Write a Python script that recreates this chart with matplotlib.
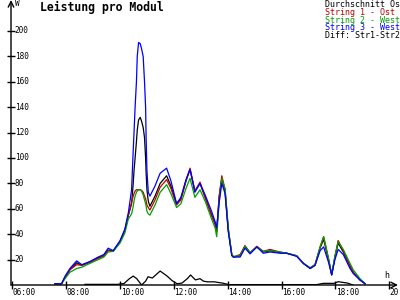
import numpy as np
import matplotlib
matplotlib.use("Agg")
import matplotlib.pyplot as plt

# hours (decimal) and power per module in W
hours = [7.58, 7.83, 7.96, 8.14, 8.39, 8.58, 8.88, 9.19, 9.40, 9.56, 9.75,
         10.00, 10.18, 10.31, 10.43, 10.49, 10.52, 10.56, 10.61, 10.64, 10.69,
         10.75, 10.80, 10.86, 10.91, 10.95, 10.97, 11.00, 11.05, 11.11,
         11.30, 11.49, 11.73, 11.89, 12.10, 12.26,
         12.45, 12.60, 12.78, 12.97, 13.16, 13.40, 13.53, 13.59, 13.68, 13.78,
         13.90, 14.02, 14.15, 14.21, 14.46, 14.64, 14.83, 15.08, 15.32, 15.57,
         15.94, 16.19, 16.56, 16.81, 17.06, 17.24, 17.43, 17.56, 17.74, 17.86,
         17.98, 18.10, 18.29, 18.54, 18.66, 18.91, 19.10]
avg = [1, 1, 6, 12, 17.5, 15.5, 18, 21.5, 23, 27.5, 27,
       34, 43, 55, 64, 80, 90, 100, 113, 122, 130,
       132, 129, 124, 116, 100, 88, 75, 66, 62,
       70, 80, 86, 78, 64, 68,
       82, 91, 74, 80, 69, 55, 48, 42, 69, 84,
       74, 43, 24, 22, 23, 30.5, 25, 30, 26, 27,
       25.5, 25, 23, 17, 13, 15.5, 29, 36, 20, 8,
       22, 33, 26, 15, 10, 4, 1]
str1 = [1, 1, 6, 12, 16, 15.5, 18, 21, 23, 27, 27,
        34, 43, 55, 65, 70, 72, 74, 75, 75, 75,
        75, 74.5, 73, 70, 68, 66, 63, 61, 59,
        67, 77, 83, 76, 63, 67,
        82, 92, 74, 81, 69, 55, 48, 42, 70, 86,
        75, 44, 24, 22, 24, 31, 25.5, 30.5, 26.5, 28,
        26, 25, 23, 17, 13.5, 16, 30, 38, 21, 8,
        22, 35, 27, 15, 10, 4, 1]
str2 = [1, 1, 5, 10, 13, 14, 17, 20, 22, 26, 26.5,
        33, 41, 52, 56, 62, 66, 70, 73, 74, 75,
        75, 74, 71, 67, 64, 62, 58, 56, 55,
        63, 73, 79, 72, 61, 64,
        76, 84, 69, 75, 66, 52, 45, 38, 65, 84,
        76, 45, 24, 22.5, 23, 30.5, 25.5, 30, 26.5, 27,
        26, 25, 23, 17, 13.5, 16, 30, 38, 21, 8,
        23, 34, 28, 17, 12, 5, 1]
str3 = [1, 1, 7, 13, 19, 16, 18.5, 22, 24, 29, 27,
        35, 44, 57, 75, 106, 120, 140, 160, 180, 191,
        190, 186, 180, 160, 140, 115, 90, 73, 70,
        78, 88, 92, 82, 64, 69,
        83, 91, 73, 80, 71, 58, 50, 45, 65, 80,
        72, 42, 23, 22, 22, 29, 24.5, 30, 25, 26,
        25, 25, 22.5, 17, 13, 15.5, 27, 30, 18, 8,
        20, 28, 24, 13, 9, 4, 1]

diff_hours = [8.70, 9.90, 10.15, 10.35, 10.49, 10.62, 10.80, 10.95, 11.04, 11.20,
              11.49, 11.75, 11.93, 12.12, 12.30, 12.50, 12.62, 12.80, 12.97, 13.10,
              13.25, 13.50, 13.80, 14.05, 17.30, 17.55, 17.95, 18.10, 18.45, 18.65]
diff = [0.5, 0.5, 1.2, 5, 7, 5, 0, 3, 6.5, 5.5,
        11, 7, 3.5, 1, 1.5, 5, 7.9, 4, 5, 3,
        2.5, 2.5, 1.5, 0.3, 0.3, 1.3, 1.3, 2.6, 1.5, 0]

legend = [("Durchschnitt Ost", "black"), ("String 1 - Ost", "#c00000"),
          ("String 2 - West", "#00a000"), ("String 3 - West", "#0000ff"),
          ("Diff: Str1-Str2", "black")]

mono = "DejaVu Sans Mono"

fig = plt.figure(figsize=(4, 3), dpi=100)
ax = fig.add_axes([0.0275, 0.05, 0.9675, 0.95])

lw = 0.9
ax.plot(hours, avg, color="black", lw=lw)
ax.plot(hours, str1, color="#c00000", lw=lw)
ax.plot(hours, str2, color="#00a000", lw=lw)
ax.plot(hours, str3, color="#0000ff", lw=lw)
ax.plot(diff_hours, diff, color="black", lw=lw)

ax.set_xlim(5.952, 20.322)
ax.set_ylim(0, 224.4)
for s in ax.spines.values():
    s.set_visible(False)

# axes with arrows
ax.annotate("", xy=(1, 0), xytext=(0, 0), xycoords="axes fraction",
            arrowprops=dict(arrowstyle="->", lw=1.0, color="black", shrinkA=0, shrinkB=0))
ax.annotate("", xy=(0, 1), xytext=(0, 0), xycoords="axes fraction",
            arrowprops=dict(arrowstyle="->", lw=1.0, color="black", shrinkA=0, shrinkB=0))

xt = np.arange(6, 21, 2)
ax.set_xticks(xt)
ax.set_xticklabels([])
ax.tick_params(axis="x", direction="inout", length=6, width=1)
for h in xt:
    ax.text(h + 0.02, -2, "%02d:00" % h, transform=ax.transData,
            ha="left", va="top", fontsize=5.6, family=mono, clip_on=False)

yt = np.arange(20, 201, 20)
ax.set_yticks(yt)
ax.set_yticklabels([])
ax.tick_params(axis="y", direction="inout", length=6, width=1)
for v in yt:
    ax.text(0.01, v, str(v), transform=ax.get_yaxis_transform(),
            ha="left", va="center", fontsize=5.6, family=mono)

fig.text(15 / 400, 1 - 4 / 300, "W", ha="left", va="center", fontsize=5.6, family=mono)
fig.text(384 / 400, 1 - 276 / 300, "h", ha="left", va="center", fontsize=6, family=mono)

fig.text(40 / 400, 1 - 7 / 300, "Leistung pro Modul", ha="left", va="center",
         fontsize=8.3, family=mono, fontweight="bold")

for i, (txt, col) in enumerate(legend):
    fig.text(325 / 400, 1 - (4.5 + 7.8 * i) / 300, txt, ha="left", va="center",
             fontsize=6, family=mono, color=col)

fig.savefig("out.png", dpi=100)
